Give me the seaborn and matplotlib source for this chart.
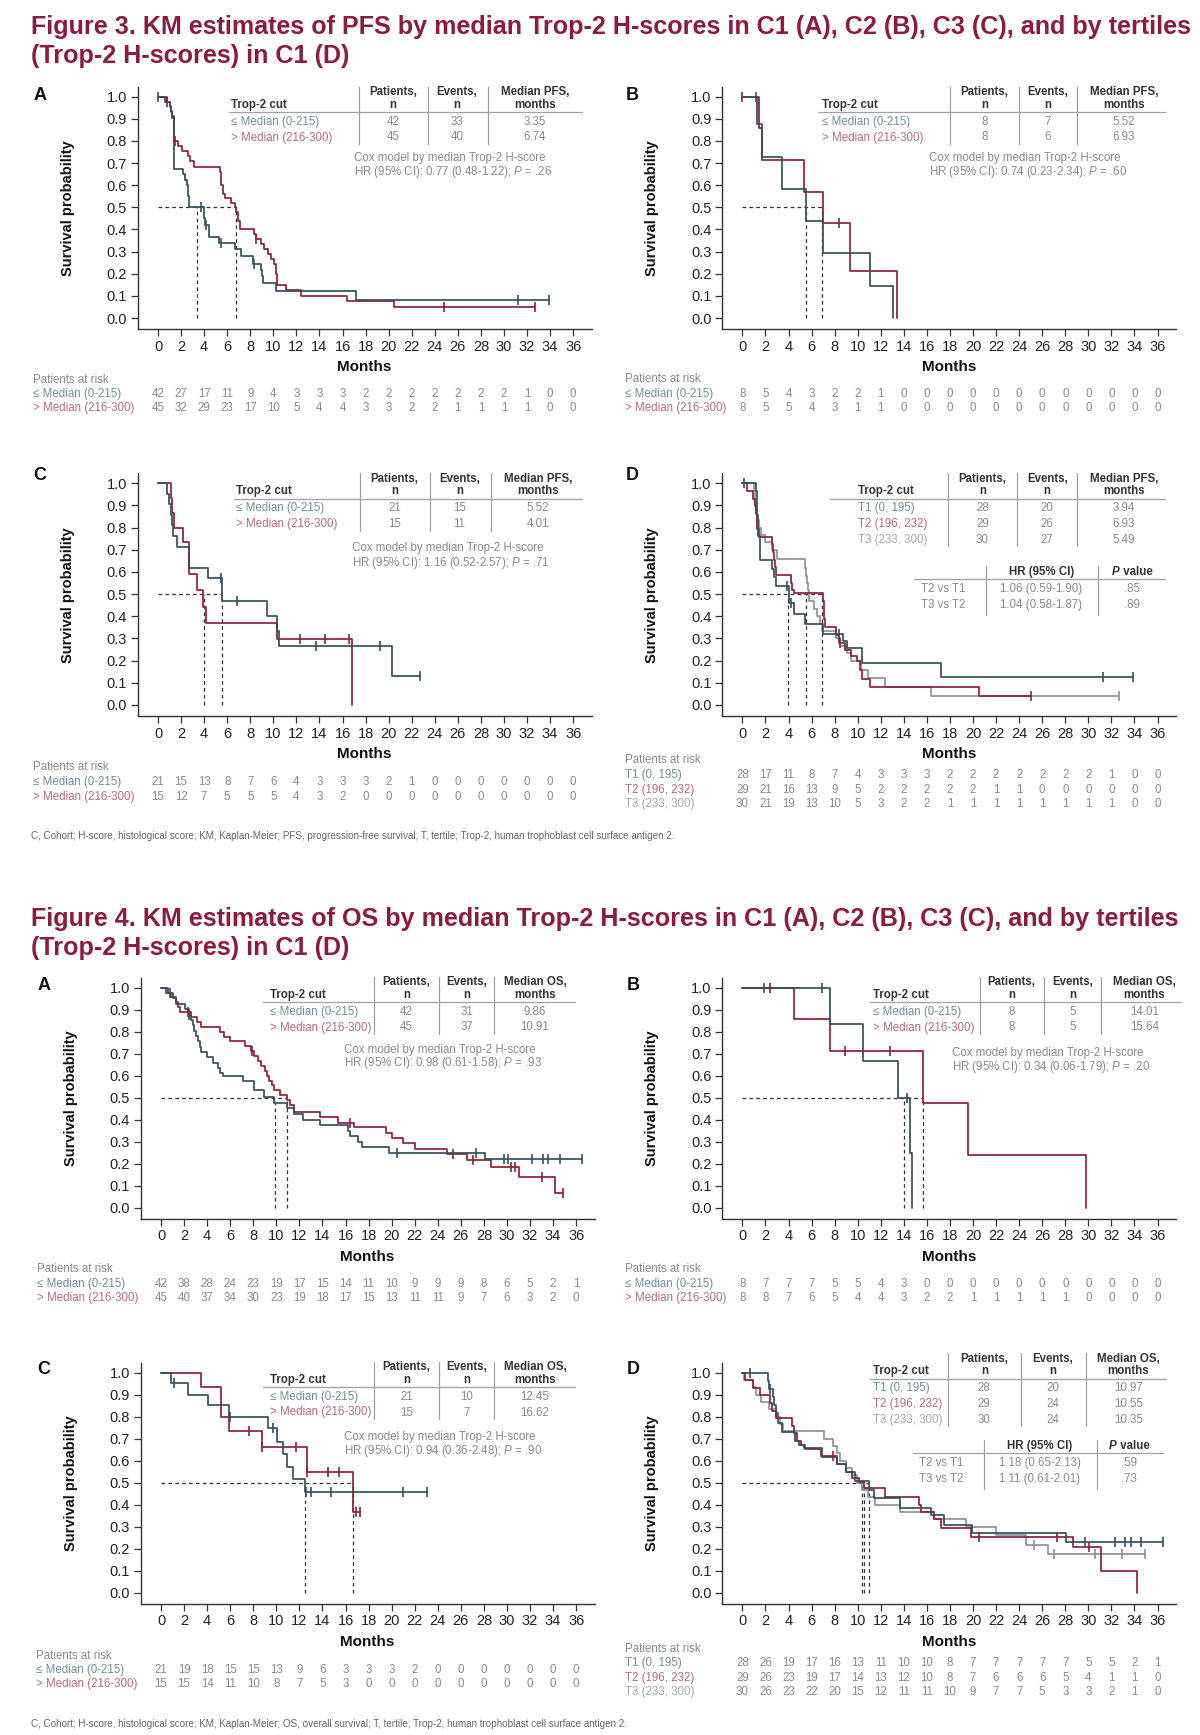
import matplotlib
matplotlib.use("Agg")
import matplotlib.pyplot as plt
import seaborn as sns
from matplotlib.lines import Line2D
from matplotlib.transforms import blended_transform_factory

sns.set_style("ticks")
plt.rcParams['font.family'] = ['Liberation Sans', 'DejaVu Sans']
plt.rcParams['mathtext.fontset'] = 'custom'
plt.rcParams['mathtext.rm'] = 'Liberation Sans'
plt.rcParams['mathtext.it'] = 'Liberation Sans:italic'
plt.rcParams['mathtext.bf'] = 'Liberation Sans:bold'

# ---------------------------------------------------------------- data
month_ticks = list(range(0, 37, 2))
prob_ticks = [0.0, 0.1, 0.2, 0.3, 0.4, 0.5, 0.6, 0.7, 0.8, 0.9, 1.0]
median_groups = ["\u2264 Median (0-215)", "> Median (216-300)"]
tertile_groups = ["T1 (0, 195)", "T2 (196, 232)", "T3 (233, 300)"]
hr_rows = ["T2 vs T1", "T3 vs T2"]

# Figure 3 A (PFS, C1)
pfs_a_low_t = [0.6, 1.0, 1.15, 1.25, 1.35, 2.15, 2.3, 2.5, 2.6, 2.7, 4.0, 4.1, 4.4, 5.3, 6.7, 7.2, 8.2, 8.9, 9.0, 9.1, 10.2, 17.2]
pfs_a_low_s = [0.976, 0.952, 0.929, 0.905, 0.674, 0.650, 0.625, 0.600, 0.550, 0.500, 0.450, 0.420, 0.364, 0.337, 0.310, 0.280, 0.245, 0.215, 0.190, 0.160, 0.122, 0.081]
pfs_a_low_cens = [0.0, 3.75, 4.2, 5.5, 8.3, 31.2, 33.9]
pfs_a_high_t = [0.75, 1.0, 1.1, 1.2, 1.4, 1.75, 2.1, 2.6, 2.8, 3.1, 5.4, 5.45, 5.5, 5.6, 5.8, 6.3, 6.7, 6.8, 6.9, 7.1, 8.3, 8.5, 8.9, 9.2, 9.5, 9.8, 10.1, 10.2, 10.3, 11.1, 12.4, 16.4, 20.5]
pfs_a_high_s = [0.978, 0.956, 0.933, 0.911, 0.800, 0.778, 0.756, 0.733, 0.711, 0.680, 0.660, 0.640, 0.600, 0.560, 0.540, 0.520, 0.500, 0.480, 0.440, 0.400, 0.378, 0.356, 0.333, 0.311, 0.289, 0.267, 0.244, 0.200, 0.150, 0.125, 0.100, 0.075, 0.050]
pfs_a_high_cens = [0.8, 1.45, 8.5, 24.8, 32.7]
pfs_a_patients = [42, 45]
pfs_a_events = [33, 40]
pfs_a_median = [3.35, 6.74]
pfs_a_cox = [0.77, 0.48, 1.22, 0.26]
pfs_a_risk = [[42, 27, 17, 11, 9, 4, 3, 3, 3, 2, 2, 2, 2, 2, 2, 2, 1, 0, 0],
              [45, 32, 29, 23, 17, 10, 5, 4, 4, 3, 3, 2, 2, 1, 1, 1, 1, 0, 0]]

# Figure 3 B (PFS, C2)
pfs_b_low_t = [1.27, 1.7, 3.45, 5.5, 6.98, 11.05, 13.07]
pfs_b_low_s = [0.875, 0.729, 0.583, 0.4375, 0.292, 0.146, 0.0]
pfs_b_low_cens = [1.2]
pfs_b_high_t = [1.43, 1.7, 5.35, 6.98, 9.33, 13.43]
pfs_b_high_s = [0.857, 0.714, 0.571, 0.428, 0.214, 0.0]
pfs_b_high_cens = [0.0, 8.35]
pfs_b_patients = [8, 8]
pfs_b_events = [7, 6]
pfs_b_median = [5.52, 6.93]
pfs_b_cox = [0.74, 0.23, 2.34, 0.60]
pfs_b_risk = [[8, 5, 4, 3, 2, 2, 1, 0, 0, 0, 0, 0, 0, 0, 0, 0, 0, 0, 0],
              [8, 5, 5, 4, 3, 1, 1, 0, 0, 0, 0, 0, 0, 0, 0, 0, 0, 0, 0]]

# Figure 3 C (PFS, C3)
pfs_c_low_t = [0.8, 0.96, 1.1, 1.2, 1.3, 1.67, 2.65, 4.34, 5.53, 9.48, 10.3, 10.5, 20.25]
pfs_c_low_s = [0.952, 0.905, 0.857, 0.810, 0.762, 0.714, 0.619, 0.571, 0.467, 0.400, 0.333, 0.267, 0.133]
pfs_c_low_cens = [5.45, 6.88, 13.7, 19.25, 22.7]
pfs_c_high_t = [1.12, 1.22, 1.35, 2.15, 2.67, 2.73, 3.37, 3.92, 4.15, 10.3, 16.8]
pfs_c_high_s = [0.933, 0.867, 0.800, 0.733, 0.667, 0.593, 0.519, 0.444, 0.370, 0.296, 0.0]
pfs_c_high_cens = [2.7, 12.35, 14.5, 16.55]
pfs_c_patients = [21, 15]
pfs_c_events = [15, 11]
pfs_c_median = [5.52, 4.01]
pfs_c_cox = [1.16, 0.52, 2.57, 0.71]
pfs_c_risk = [[21, 15, 13, 8, 7, 6, 4, 3, 3, 3, 2, 1, 0, 0, 0, 0, 0, 0, 0],
              [15, 12, 7, 5, 5, 5, 4, 3, 2, 0, 0, 0, 0, 0, 0, 0, 0, 0, 0]]

# Figure 3 D (PFS, C1 tertiles)
pfs_d_t1_t = [1.18, 1.25, 1.3, 1.35, 1.5, 2.55, 2.78, 2.88, 4.0, 4.5, 5.43, 6.97, 8.76, 9.1, 10.33, 17.2]
pfs_d_t1_s = [0.964, 0.929, 0.857, 0.760, 0.654, 0.615, 0.577, 0.538, 0.458, 0.410, 0.364, 0.318, 0.287, 0.256, 0.190, 0.128]
pfs_d_t1_cens = [0.1, 3.86, 4.25, 8.37, 31.3, 33.9]
pfs_d_t2_t = [0.36, 0.9, 1.05, 1.15, 1.25, 1.3, 1.4, 2.55, 2.62, 2.7, 2.8, 2.9, 4.19, 4.3, 4.45, 7.0, 7.05, 7.1, 7.2, 8.1, 8.4, 8.9, 9.4, 9.9, 10.17, 10.33, 11.05, 20.5]
pfs_d_t2_s = [0.966, 0.931, 0.897, 0.862, 0.828, 0.793, 0.759, 0.724, 0.690, 0.655, 0.621, 0.586, 0.552, 0.517, 0.505, 0.470, 0.430, 0.390, 0.350, 0.315, 0.280, 0.250, 0.220, 0.200, 0.158, 0.119, 0.079, 0.040]
pfs_d_t2_cens = [8.5, 25.0]
pfs_d_t3_t = [1.0, 1.05, 1.1, 1.2, 1.3, 1.4, 1.57, 2.0, 2.6, 3.04, 5.4, 5.5, 5.6, 5.7, 5.8, 6.2, 6.47, 6.7, 6.87, 8.1, 8.5, 9.1, 9.4, 10.3, 10.9, 12.36, 16.35]
pfs_d_t3_s = [0.967, 0.933, 0.900, 0.867, 0.833, 0.800, 0.767, 0.733, 0.700, 0.657, 0.620, 0.580, 0.550, 0.517, 0.467, 0.433, 0.400, 0.367, 0.333, 0.300, 0.267, 0.233, 0.200, 0.160, 0.120, 0.080, 0.040]
pfs_d_t3_cens = [32.7]
pfs_d_patients = [28, 29, 30]
pfs_d_events = [20, 26, 27]
pfs_d_median = [3.94, 6.93, 5.49]
pfs_d_hr = [[1.06, 0.59, 1.90, 0.85], [1.04, 0.58, 1.87, 0.89]]
pfs_d_risk = [[28, 17, 11, 8, 7, 4, 3, 3, 3, 2, 2, 2, 2, 2, 2, 2, 1, 0, 0],
              [29, 21, 16, 13, 9, 5, 2, 2, 2, 2, 2, 1, 1, 0, 0, 0, 0, 0, 0],
              [30, 21, 19, 13, 10, 5, 3, 2, 2, 1, 1, 1, 1, 1, 1, 1, 1, 0, 0]]

# Figure 4 A (OS, C1)
os_a_low_t = [0.6, 1.04, 1.26, 2.07, 2.4, 2.6, 2.75, 2.88, 3.05, 3.2, 3.35, 3.46, 4.0, 4.5, 4.92, 5.15, 5.37, 7.09, 8.1, 8.9, 9.84, 10.9, 11.55, 12.27, 13.8, 16.2, 16.4, 17.1, 17.4, 19.8, 28.1]
os_a_low_s = [0.976, 0.951, 0.927, 0.902, 0.878, 0.854, 0.829, 0.805, 0.780, 0.756, 0.732, 0.707, 0.683, 0.659, 0.634, 0.610, 0.600, 0.576, 0.535, 0.505, 0.477, 0.451, 0.425, 0.400, 0.376, 0.350, 0.325, 0.300, 0.277, 0.250, 0.222]
os_a_low_cens = [0.78, 2.4, 20.46, 27.3, 29.75, 30.1, 32.2, 33.15, 33.6, 34.6, 36.5]
os_a_high_t = [0.45, 0.9, 1.26, 1.45, 1.65, 2.62, 3.14, 3.46, 5.15, 5.5, 5.96, 7.25, 7.8, 8.1, 8.38, 8.7, 9.03, 9.2, 9.4, 9.6, 9.84, 10.33, 10.9, 11.2, 11.5, 13.82, 15.34, 16.7, 19.55, 20.0, 21.0, 22.0, 24.83, 26.5, 28.6, 31.04, 34.2]
os_a_high_s = [0.978, 0.956, 0.933, 0.911, 0.889, 0.867, 0.844, 0.822, 0.800, 0.778, 0.756, 0.733, 0.711, 0.689, 0.667, 0.644, 0.622, 0.600, 0.578, 0.556, 0.533, 0.511, 0.489, 0.467, 0.436, 0.414, 0.386, 0.365, 0.341, 0.317, 0.292, 0.267, 0.242, 0.215, 0.183, 0.138, 0.068]
os_a_high_cens = [2.3, 7.9, 16.4, 25.3, 27.06, 30.33, 30.7, 33.0, 34.9]
os_a_patients = [42, 45]
os_a_events = [31, 37]
os_a_median = [9.86, 10.91]
os_a_cox = [0.98, 0.61, 1.58, 0.93]
os_a_risk = [[42, 38, 28, 24, 23, 19, 17, 15, 14, 11, 10, 9, 9, 9, 8, 6, 5, 2, 1],
             [45, 40, 37, 34, 30, 23, 19, 18, 17, 15, 13, 11, 11, 9, 7, 6, 3, 2, 0]]

# Figure 4 B (OS, C2)
os_b_low_t = [7.6, 10.46, 13.5, 14.5, 14.74]
os_b_low_s = [0.833, 0.667, 0.500, 0.250, 0.0]
os_b_low_cens = [1.84, 6.94, 14.25]
os_b_high_t = [4.44, 7.6, 15.66, 19.6, 29.78]
os_b_high_s = [0.857, 0.714, 0.476, 0.238, 0.0]
os_b_high_cens = [2.4, 8.92, 12.83]
os_b_patients = [8, 8]
os_b_events = [5, 5]
os_b_median = [14.01, 15.64]
os_b_cox = [0.34, 0.06, 1.79, 0.20]
os_b_risk = [[8, 7, 7, 7, 5, 5, 4, 3, 0, 0, 0, 0, 0, 0, 0, 0, 0, 0, 0],
             [8, 8, 7, 6, 5, 4, 4, 3, 2, 2, 1, 1, 1, 1, 1, 0, 0, 0, 0]]

# Figure 4 C (OS, C3)
os_c_low_t = [0.87, 2.33, 4.08, 5.9, 9.26, 10.07, 10.59, 10.9, 11.46, 12.5]
os_c_low_s = [0.952, 0.900, 0.852, 0.800, 0.750, 0.686, 0.629, 0.573, 0.516, 0.459]
os_c_low_cens = [1.1, 5.96, 9.74, 12.6, 13.0, 14.76, 21.0, 23.1]
os_c_high_t = [3.43, 5.21, 5.86, 8.8, 12.69, 16.64]
os_c_high_s = [0.933, 0.800, 0.733, 0.660, 0.550, 0.367]
os_c_high_cens = [7.64, 8.8, 11.7, 12.7, 14.5, 15.4, 16.87, 17.29]
os_c_patients = [21, 15]
os_c_events = [10, 7]
os_c_median = [12.45, 16.62]
os_c_cox = [0.94, 0.36, 2.48, 0.90]
os_c_risk = [[21, 19, 18, 15, 15, 13, 9, 6, 3, 3, 3, 2, 0, 0, 0, 0, 0, 0, 0],
             [15, 15, 14, 11, 10, 8, 7, 5, 3, 0, 0, 0, 0, 0, 0, 0, 0, 0, 0]]

# Figure 4 D (OS, C1 tertiles)
os_d_t1_t = [2.2, 2.3, 2.63, 2.75, 2.9, 3.1, 3.39, 4.54, 4.9, 5.36, 6.9, 8.16, 8.98, 9.8, 10.96, 11.45, 13.69, 16.39, 17.44, 19.9, 28.07]
os_d_t1_s = [0.963, 0.926, 0.889, 0.852, 0.815, 0.770, 0.732, 0.690, 0.670, 0.656, 0.618, 0.585, 0.550, 0.508, 0.468, 0.430, 0.383, 0.355, 0.308, 0.273, 0.232]
os_d_t1_cens = [0.66, 2.4, 29.7, 32.3, 33.17, 33.66, 34.6, 36.5]
os_d_t2_t = [0.26, 0.92, 1.5, 2.4, 2.6, 2.9, 4.31, 4.5, 4.7, 5.1, 5.43, 6.84, 8.16, 8.98, 9.48, 10.1, 10.55, 12.37, 15.33, 15.5, 16.65, 17.2, 19.84, 28.7, 31.1, 34.2]
os_d_t2_s = [0.966, 0.931, 0.897, 0.862, 0.828, 0.792, 0.759, 0.724, 0.690, 0.672, 0.653, 0.620, 0.585, 0.550, 0.520, 0.503, 0.474, 0.436, 0.400, 0.368, 0.335, 0.295, 0.254, 0.209, 0.100, 0.0]
os_d_t2_cens = [7.83, 20.5, 27.3, 30.04]
os_d_t3_t = [0.15, 0.92, 1.2, 1.58, 2.3, 2.9, 3.3, 3.55, 7.1, 7.83, 8.16, 8.5, 9.0, 9.47, 9.97, 10.35, 10.9, 11.5, 13.69, 16.65, 19.4, 21.98, 24.6, 26.5]
os_d_t3_s = [0.967, 0.933, 0.900, 0.867, 0.833, 0.800, 0.767, 0.733, 0.700, 0.667, 0.633, 0.600, 0.567, 0.533, 0.500, 0.467, 0.433, 0.400, 0.367, 0.333, 0.300, 0.262, 0.217, 0.176]
os_d_t3_cens = [25.27, 27.0, 30.6, 32.9, 34.9]
os_d_patients = [28, 29, 30]
os_d_events = [20, 24, 24]
os_d_median = [10.97, 10.55, 10.35]
os_d_hr = [[1.18, 0.65, 2.13, 0.59], [1.11, 0.61, 2.01, 0.73]]
os_d_risk = [[28, 26, 19, 17, 16, 13, 11, 10, 10, 8, 7, 7, 7, 7, 7, 5, 5, 2, 1],
             [29, 26, 23, 19, 17, 14, 13, 12, 10, 8, 7, 6, 6, 6, 5, 4, 1, 1, 0],
             [30, 26, 23, 22, 20, 15, 12, 11, 11, 10, 9, 7, 7, 5, 3, 3, 2, 1, 0]]

titles = ["Figure 3. KM estimates of PFS by median Trop-2 H-scores in C1 (A), C2 (B), C3 (C), and by tertiles\n(Trop-2 H-scores) in C1 (D)",
          "Figure 4. KM estimates of OS by median Trop-2 H-scores in C1 (A), C2 (B), C3 (C), and by tertiles\n(Trop-2 H-scores) in C1 (D)"]
footnotes = ["C, Cohort; H-score, histological score; KM, Kaplan-Meier; PFS, progression-free survival; T, tertile; Trop-2, human trophoblast cell surface antigen 2.",
             "C, Cohort; H-score, histological score; KM, Kaplan-Meier; OS, overall survival; T, tertile; Trop-2, human trophoblast cell surface antigen 2."]

# ---------------------------------------------------------------- style
TITLE_C = '#8c1b3e'
CURVE_C = ['#34505e', '#8d2139', '#8d9395']
LABEL_C = ['#6f8e9c', '#b56b7d', '#a8a8a8']
NUM_C = '#8a8a8a'
LINE_C = '#a0a0a0'
DARK = '#222222'
TFS = 8.3

W, H = 1200, 1735
fig = plt.figure(figsize=(12, 17.35), dpi=100)


def fx(x):
    return x / W


def fy(y):
    return 1 - y / H


def ftext(x, y, s, **kw):
    return fig.text(fx(x), fy(y), s, **kw)


def fline(xs, ys, **kw):
    fig.add_artist(Line2D([fx(v) for v in xs], [fy(v) for v in ys],
                          transform=fig.transFigure, **kw))


def steps(t, s, c):
    end = max([t[-1]] + list(c))
    xs = [0.0] + list(t)
    ys = [1.0] + list(s)
    if end > t[-1]:
        xs.append(end)
        ys.append(s[-1])
    return xs, ys


def surv_at(t, s, x):
    v = 1.0
    for ti, si in zip(t, s):
        if ti <= x:
            v = si
    return v


def fmt_hr(v):
    return f"{v[0]:.2f} ({v[1]:.2f}-{v[2]:.2f})"


def fmt_p(p):
    return f"{p:.2f}"[1:]


def draw_panel(p):
    l, t, r, b = p['ax']
    ax = fig.add_axes([fx(l), fy(b), fx(r) - fx(l), fy(t) - fy(b)])
    ax.set_xlim(-1.77, 37.6)
    ax.set_ylim(-0.051, 1.045)
    # median reference lines
    meds = p['median']
    ax.plot([0, max(meds)], [0.5, 0.5], ls=(0, (3, 2.5)), color='#333333', lw=0.9, zorder=1)
    for m in meds:
        ax.plot([m, m], [0, 0.5], ls=(0, (3, 2.5)), color='#333333', lw=0.9, zorder=1)
    for i, (tt, ss, cc) in enumerate(p['curves']):
        xs, ys = steps(tt, ss, cc)
        sns.lineplot(x=xs, y=ys, ax=ax, color=CURVE_C[i], lw=1.25, drawstyle='steps-post',
                     estimator=None, sort=False, legend=False, zorder=3 - 0.1 * i)
        ax.plot(cc, [surv_at(tt, ss, v) for v in cc], ls='none', marker='|', ms=7,
                mew=1.2, color=CURVE_C[i], zorder=4)
    ax.set_xticks(month_ticks)
    ax.set_yticks(prob_ticks)
    ax.set_yticklabels([f"{v:.1f}" for v in prob_ticks])
    sns.despine(ax=ax)
    for sp in ('left', 'bottom'):
        ax.spines[sp].set_color('#333333')
        ax.spines[sp].set_linewidth(1.0)
    ax.tick_params(axis='both', length=5, width=0.9, color='#333333', labelsize=10.5,
                   labelcolor=DARK, pad=2.5)
    ax.set_xlabel('Months', fontsize=11, fontweight='bold', color='#111111', va='center')
    ax.xaxis.set_label_coords(0.5, -38 / (b - t))
    ax.set_ylabel('Survival probability', fontsize=10.5, fontweight='bold', color='#111111',
                  va='center')
    ax.yaxis.set_label_coords(-70 / (r - l), 0.5)
    ax.grid(False)
    # panel letter
    ftext(p['lab'][0], p['lab'][1], p['key'], fontsize=13, fontweight='bold', ha='center',
          va='center', color='#111111')
    # info table
    tb = p['tbl']
    top = tb['top']
    n = len(p['groups'])
    rows = [top + 35 + 15.8 * i for i in range(n)]
    for vx in tb['vl']:
        fline([vx, vx], [top, rows[-1] + 6.5], color=LINE_C, lw=0.9)
    fline(tb['ul'], [top + 25.5, top + 25.5], color=LINE_C, lw=0.9)
    ftext(tb['lab_x'], top + 18, 'Trop-2 cut', fontsize=TFS, fontweight='bold', color='#333333',
          ha='left', va='center')
    heads = [('Patients,', 'n'), ('Events,', 'n'), (f"Median {p['ep']},", 'months')]
    for cx, (h1, h2) in zip(tb['cols'], heads):
        ftext(cx, top + 5.5, h1, fontsize=TFS, fontweight='bold', color='#333333', ha='center', va='center')
        ftext(cx, top + 18, h2, fontsize=TFS, fontweight='bold', color='#333333', ha='center', va='center')
    for i in range(n):
        ftext(tb['lab_x'], rows[i], p['groups'][i], fontsize=TFS, color=LABEL_C[i], ha='left', va='center')
        vals = [str(p['patients'][i]), str(p['events'][i]), f"{p['median'][i]:.2f}"]
        for cx, v in zip(tb['cols'], vals):
            ftext(cx, rows[i], v, fontsize=TFS, color=NUM_C, ha='center', va='center')
    if 'cox' in p:
        cx, y1, y2 = p['cox_pos']
        ftext(cx, y1, 'Cox model by median Trop-2 H-score', fontsize=TFS, color=NUM_C, ha='left', va='center')
        ftext(cx, y2, f"HR (95% CI): {fmt_hr(p['cox'])}; $\\mathit{{P}}$ = {fmt_p(p['cox'][3])}",
              fontsize=TFS, color=NUM_C, ha='left', va='center')
    if 'hr' in p:
        hb = p['hrtbl']
        ht = hb['top']
        hrows = [ht + 22.7, ht + 38.7]
        for vx in hb['vl']:
            fline([vx, vx], [ht, ht + 49], color=LINE_C, lw=0.9)
        fline(hb['ul'], [ht + 13, ht + 13], color=LINE_C, lw=0.9)
        ftext(hb['cols'][0], ht + 6.3, 'HR (95% CI)', fontsize=TFS, fontweight='bold', color='#333333',
              ha='center', va='center')
        ftext(hb['cols'][1] - 12.5, ht + 6.3, 'P', fontsize=TFS, fontweight='bold', style='italic',
              color='#333333', ha='right', va='center')
        ftext(hb['cols'][1] - 12.5, ht + 6.3, ' value', fontsize=TFS, fontweight='bold', color='#333333',
              ha='left', va='center')
        for i in range(2):
            ftext(hb['lab_x'], hrows[i], hr_rows[i], fontsize=TFS, color=NUM_C, ha='left', va='center')
            ftext(hb['cols'][0], hrows[i], fmt_hr(p['hr'][i]), fontsize=TFS, color=NUM_C, ha='center', va='center')
            ftext(hb['cols'][1], hrows[i], fmt_p(p['hr'][i][3]), fontsize=TFS, color=NUM_C, ha='center', va='center')
    # numbers at risk
    rx, rys = p['risk_pos']
    ftext(rx, rys[0], 'Patients at risk', fontsize=TFS, color=NUM_C, ha='left', va='center')
    tr = blended_transform_factory(ax.transData, fig.transFigure)
    for i, rr in enumerate(p['risk']):
        ftext(rx, rys[i + 1], p['groups'][i], fontsize=TFS, color=LABEL_C[i], ha='left', va='center')
        for mt, v in zip(month_ticks, rr):
            ax.text(mt, fy(rys[i + 1]), str(v), transform=tr, fontsize=TFS, color=NUM_C,
                    ha='center', va='center', clip_on=False)
    return ax


panels = [
    dict(key='A', ep='PFS', ax=(137.6, 86.7, 591.6, 329.3), lab=(40, 95),
         curves=[(pfs_a_low_t, pfs_a_low_s, pfs_a_low_cens), (pfs_a_high_t, pfs_a_high_s, pfs_a_high_cens)],
         groups=median_groups, patients=pfs_a_patients, events=pfs_a_events, median=pfs_a_median,
         cox=pfs_a_cox, cox_pos=(354, 157.7, 172), risk=pfs_a_risk, risk_pos=(33, [380, 394, 408]),
         tbl=dict(top=86.7, lab_x=231, cols=[393, 457, 535], vl=[358.5, 428, 488], ul=[229, 582])),
    dict(key='B', ep='PFS', ax=(722, 86.7, 1176, 329.3), lab=(632, 95),
         curves=[(pfs_b_low_t, pfs_b_low_s, pfs_b_low_cens), (pfs_b_high_t, pfs_b_high_s, pfs_b_high_cens)],
         groups=median_groups, patients=pfs_b_patients, events=pfs_b_events, median=pfs_b_median,
         cox=pfs_b_cox, cox_pos=(929, 157.7, 172), risk=pfs_b_risk, risk_pos=(625, [379, 394, 408]),
         tbl=dict(top=86.7, lab_x=821.8, cols=[984.3, 1047.5, 1124], vl=[949.7, 1019.3, 1077.3], ul=[818, 1165])),
    dict(key='C', ep='PFS', ax=(137.6, 473.3, 591.6, 716.3), lab=(40, 475),
         curves=[(pfs_c_low_t, pfs_c_low_s, pfs_c_low_cens), (pfs_c_high_t, pfs_c_high_s, pfs_c_high_cens)],
         groups=median_groups, patients=pfs_c_patients, events=pfs_c_events, median=pfs_c_median,
         cox=pfs_c_cox, cox_pos=(352.2, 548.3, 562.7), risk=pfs_c_risk, risk_pos=(33, [766.5, 782, 797]),
         tbl=dict(top=473.3, lab_x=235.7, cols=[394.4, 459.5, 538], vl=[360.4, 430.3, 491], ul=[233.8, 581.6])),
    dict(key='D', ep='PFS', ax=(722, 473.3, 1176, 716.3), lab=(632, 475),
         curves=[(pfs_d_t1_t, pfs_d_t1_s, pfs_d_t1_cens), (pfs_d_t2_t, pfs_d_t2_s, pfs_d_t2_cens),
                 (pfs_d_t3_t, pfs_d_t3_s, pfs_d_t3_cens)],
         groups=tertile_groups, patients=pfs_d_patients, events=pfs_d_events, median=pfs_d_median,
         hr=pfs_d_hr, risk=pfs_d_risk, risk_pos=(625, [760, 775, 790, 804]),
         tbl=dict(top=473.3, lab_x=858.3, cols=[982.5, 1047.2, 1124], vl=[947.5, 1016.7, 1077.3], ul=[830, 1165]),
         hrtbl=dict(top=566, lab_x=920.8, cols=[1041.5, 1132.2], vl=[985.5, 1098.3], ul=[914, 1165])),
    dict(key='A', ep='OS', ax=(140.6, 977.8, 594.6, 1218.9), lab=(44, 985),
         curves=[(os_a_low_t, os_a_low_s, os_a_low_cens), (os_a_high_t, os_a_high_s, os_a_high_cens)],
         groups=median_groups, patients=os_a_patients, events=os_a_events, median=os_a_median,
         cox=os_a_cox, cox_pos=(344.4, 1050, 1063.3), risk=os_a_risk, risk_pos=(37, [1269, 1284, 1298]),
         tbl=dict(top=976.7, lab_x=270, cols=[406.6, 467, 535], vl=[374.4, 438.8, 494.3], ul=[263.4, 575])),
    dict(key='B', ep='OS', ax=(722, 977.8, 1176, 1218.9), lab=(633, 985),
         curves=[(os_b_low_t, os_b_low_s, os_b_low_cens), (os_b_high_t, os_b_high_s, os_b_high_cens)],
         groups=median_groups, patients=os_b_patients, events=os_b_events, median=os_b_median,
         cox=os_b_cox, cox_pos=(952.4, 1053.3, 1066.7), risk=os_b_risk, risk_pos=(625, [1269, 1284, 1298]),
         tbl=dict(top=976.7, lab_x=873.4, cols=[1011.4, 1072.8, 1144.2], vl=[979.8, 1043.8, 1101.3], ul=[870.3, 1181])),
    dict(key='C', ep='OS', ax=(140.6, 1362.8, 594.6, 1603.9), lab=(44, 1370),
         curves=[(os_c_low_t, os_c_low_s, os_c_low_cens), (os_c_high_t, os_c_high_s, os_c_high_cens)],
         groups=median_groups, patients=os_c_patients, events=os_c_events, median=os_c_median,
         cox=os_c_cox, cox_pos=(343.7, 1436.7, 1450.7), risk=os_c_risk, risk_pos=(36, [1656, 1670, 1684]),
         tbl=dict(top=1361.7, lab_x=270, cols=[406.6, 467, 535], vl=[374.4, 438.8, 494.3], ul=[263.4, 575])),
    dict(key='D', ep='OS', ax=(722, 1362.8, 1176, 1603.9), lab=(633, 1370),
         curves=[(os_d_t1_t, os_d_t1_s, os_d_t1_cens), (os_d_t2_t, os_d_t2_s, os_d_t2_cens),
                 (os_d_t3_t, os_d_t3_s, os_d_t3_cens)],
         groups=tertile_groups, patients=os_d_patients, events=os_d_events, median=os_d_median,
         hr=os_d_hr, risk=os_d_risk, risk_pos=(625, [1648.5, 1663, 1678, 1691.5]),
         tbl=dict(top=1353.3, lab_x=873.4, cols=[984.3, 1052.8, 1128.4], vl=[947.5, 1020.8, 1086], ul=[870.3, 1166]),
         hrtbl=dict(top=1440, lab_x=919.3, cols=[1039.6, 1129.2], vl=[984.3, 1096.5], ul=[912.9, 1163])),
]

for p in panels:
    draw_panel(p)

# titles and footnotes (font size fitted to the reference widths)
renderer = fig.canvas.get_renderer()
probe = fig.text(0, 0, titles[0].split('\n')[0], fontsize=16, fontweight='bold')
tw = probe.get_window_extent(renderer).width
probe.remove()
title_fs = 16 * 1156 / tw
for txt, y in zip(titles, [15, 907]):
    ftext(31, y, txt, fontsize=title_fs, fontweight='bold', color=TITLE_C, ha='left', va='top',
          linespacing=1.25)

probe = fig.text(0, 0, footnotes[0], fontsize=6.5)
fw = probe.get_window_extent(renderer).width
probe.remove()
foot_fs = 6.5 * 644 / fw
for txt, y in zip(footnotes, [836, 1724]):
    ftext(31, y, txt, fontsize=foot_fs, color='#666666', ha='left', va='center')

fig.savefig('out.png', dpi=100, facecolor='white')
